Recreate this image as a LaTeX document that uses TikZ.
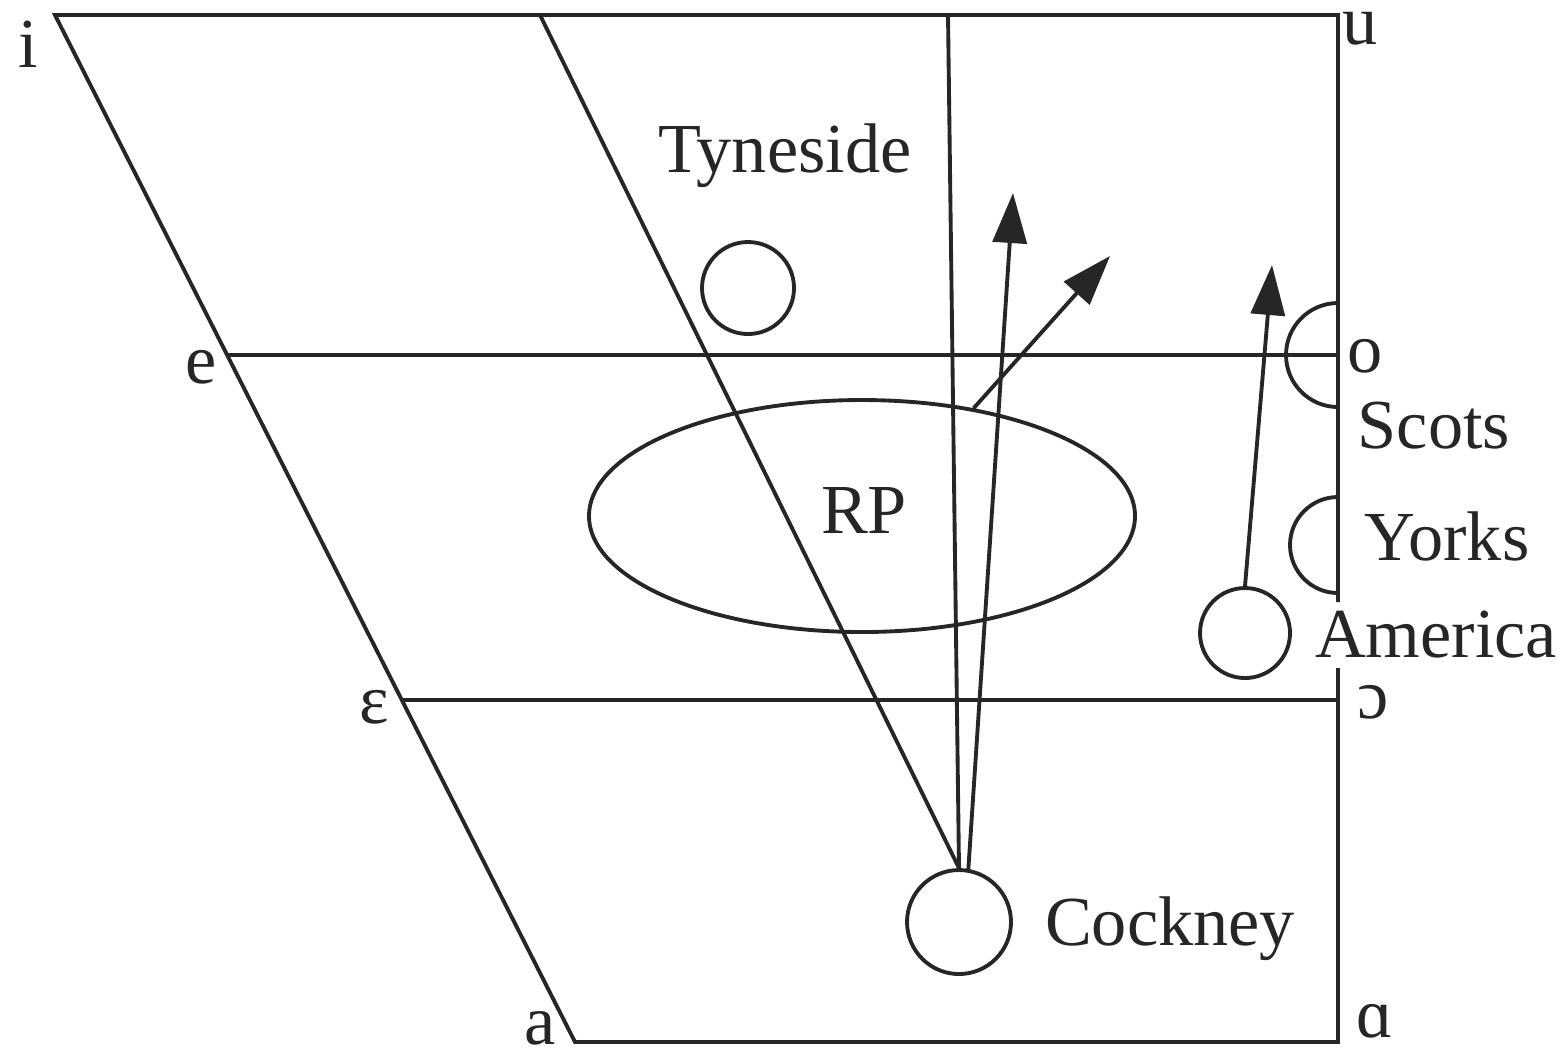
\documentclass[tikz,border=0pt]{standalone}
\usepackage{fontspec}
\setmainfont{Liberation Serif}
\usepackage{tikz}
\usetikzlibrary{shapes.geometric, arrows.meta}

\begin{document}
\begin{tikzpicture}[
    line width=1.1pt, black!85, line join=miter,
    every node/.style={font=\fontsize{20}{24}\selectfont},
    lab/.style={anchor=base, inner sep=0pt},
    ring/.style={draw, circle, inner sep=0pt},
    drift/.style={-{Triangle[length=5mm,width=3.4mm]}}
  ]
  \useasboundingbox (0,0) rectangle (15.68,-10.55);

  % Frame
  \coordinate (ci) at (0.55,-0.15);
  \coordinate (cu) at (13.38,-0.15);
  \coordinate (ca) at (5.75,-10.42);
  \coordinate (caa) at (13.38,-10.42);
  \draw (13.38,-6.68) -- (caa) -- (ca) -- (ci) -- (cu) -- (13.38,-6.02);
  \draw (2.27,-3.55) -- (13.38,-3.55);
  \draw (4.02,-7.00) -- (13.38,-7.00);

  % Vowel labels
  \foreach \nm/\x/\y/\lab in {i/0.28/0.67/i, u/13.60/0.44/u, e/2.01/3.83/e, o/13.65/3.72/o,
      eps/3.74/7.23/ɛ, oo/13.73/7.18/ɔ, a/5.40/10.44/a, aa/13.75/10.37/ɑ} {
    \node[lab] (v\nm) at (\x,-\y) {\lab};
  }

  % Accents
  \node[ring, minimum size=0.92cm] (tyne) at (7.48,-2.88) {};
  \node[lab] (tynelab) at (7.85,-1.72) {Tyneside};
  \node[draw, ellipse, inner sep=0pt, minimum width=5.46cm, minimum height=2.32cm] (rp) at (8.62,-5.16) {};
  \node[lab] (rplab) at (8.64,-5.33) {RP};
  \node[ring, minimum size=1.04cm] (cockney) at (9.59,-9.22) {};
  \node[lab] (cockneylab) at (11.70,-9.45) {Cockney};
  \node[ring, minimum size=0.90cm] (america) at (12.45,-6.33) {};
  \node[lab] (americalab) at (14.36,-6.57) {America};
  \node[lab] (scotslab) at (14.34,-4.48) {Scots};
  \node[lab] (yorkslab) at (14.47,-5.60) {Yorks};
  \draw (13.38,-3.03) arc[start angle=90, end angle=270, radius=0.52];
  \draw (13.38,-4.97) arc[start angle=90, end angle=270, radius=0.48];

  % Lines from Cockney
  \coordinate (midtop) at (5.40,-0.15);
  \coordinate (verttop) at (9.48,-0.15);
  \coordinate (tipa) at (10.13,-1.93);
  \coordinate (tipb) at (11.10,-2.56);
  \coordinate (tipc) at (12.72,-2.65);
  \draw (midtop) -- (cockney.north);
  \draw (verttop) -- (cockney.north);
  \draw[drift] (cockney.80) -- (tipa);
  \draw[drift] (rp.44) -- (tipb);
  \draw[drift] (america.north) -- (tipc);
\end{tikzpicture}
\end{document}
